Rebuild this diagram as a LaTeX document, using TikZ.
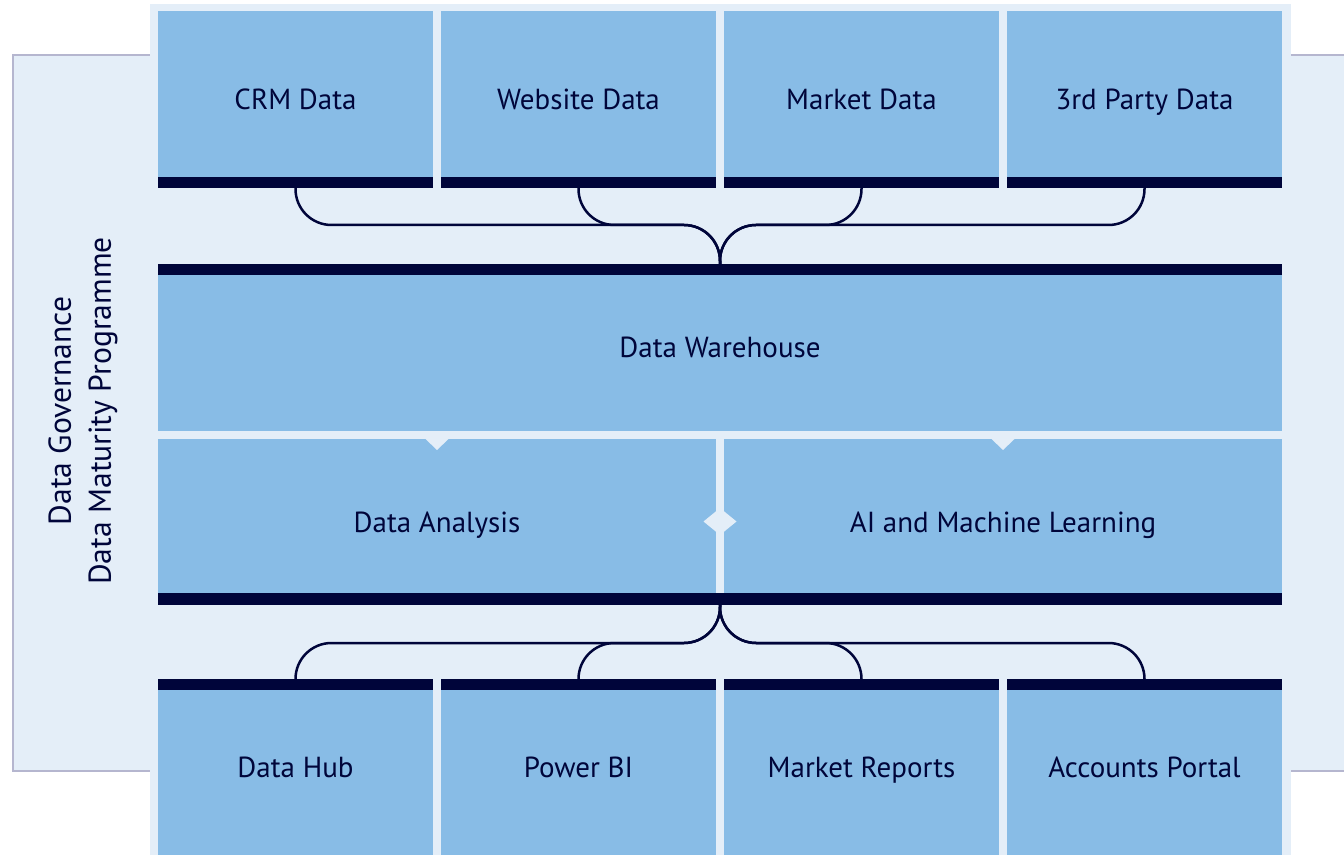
\documentclass[tikz,border=0pt]{standalone}
\usepackage{fontspec}
\setmainfont{PT Sans}

\definecolor{panel}{HTML}{E4EEF8}
\definecolor{boxblue}{HTML}{88BCE6}
\definecolor{navy}{HTML}{00053A}
\definecolor{framegray}{HTML}{B5B6CF}

\tikzset{
  box/.style={fill=boxblue, inner sep=0pt, outer sep=0pt, text=navy,
    text height=10pt, text depth=0pt, font=\fontsize{14.5}{17}\selectfont},
  % boxes with their dark bar underneath / on top
  srcbox/.style={box, minimum width=137.5pt, minimum height=88.5pt,
    path picture={\fill[navy] (path picture bounding box.south west)
      rectangle ([yshift=5.5pt]path picture bounding box.south east);}},
  sinkbox/.style={box, minimum width=137.5pt, minimum height=88pt,
    path picture={\fill[navy] (path picture bounding box.north west)
      rectangle ([yshift=-5.5pt]path picture bounding box.north east);}},
  widebox/.style={box, minimum width=562pt, minimum height=83.5pt,
    path picture={\fill[navy] (path picture bounding box.north west)
      rectangle ([yshift=-5.5pt]path picture bounding box.north east);}},
  halfbox/.style={box, minimum width=279pt, minimum height=83pt},
  bar/.style={fill=navy, inner sep=0pt, outer sep=0pt, minimum width=562pt, minimum height=6pt},
  link/.style={draw=navy, line width=1.25pt, rounded corners=18pt}
}

\begin{document}
\begin{tikzpicture}[x=0.5pt,y=-0.5pt]
  \useasboundingbox (0,0) rectangle (1344,855);
  \clip (0,0) rectangle (1344,855);
  % outer frame and centre panel
  \draw[fill=panel,draw=framegray,line width=1.25pt] (13,55) rectangle (1400,771);
  \fill[panel] (150,4) rectangle (1291,870);
  \node[text=navy,font=\fontsize{15.8}{20}\selectfont,align=center,rotate=90] (gov) at (83,411)
    {Data Governance\\Data Maturity Programme};

  % sources
  \node[srcbox] (crm) at (295.5,99.5) {CRM Data};
  \node[srcbox] (web) at (578.5,99.5) {Website Data};
  \node[srcbox] (mkt) at (861.5,99.5) {Market Data};
  \node[srcbox] (third) at (1144.5,99.5) {3rd Party Data};

  % warehouse and processing
  \node[widebox] (dw) at (720,347.5) {Data Warehouse};
  \node[halfbox] (da) at (437,522) {Data Analysis};
  \node[halfbox] (ai) at (1003,522) {AI and Machine Learning};
  \node[bar] (outbar) at (720,599) {};
  \fill[panel] ([xshift=-5.75pt]da.north) -- ([xshift=5.75pt]da.north) -- ([yshift=-5.5pt]da.north) -- cycle;
  \fill[panel] ([xshift=-5.75pt]ai.north) -- ([xshift=5.75pt]ai.north) -- ([yshift=-5.5pt]ai.north) -- cycle;
  \coordinate (split) at (720,521.5);
  \fill[panel] ([xshift=-8.25pt]split) -- ([yshift=6.75pt]split) -- ([xshift=8.25pt]split) -- ([yshift=-6.75pt]split) -- cycle;

  % outputs
  \node[sinkbox] (hub) at (295.5,767) {Data Hub};
  \node[sinkbox] (pbi) at (578.5,767) {Power BI};
  \node[sinkbox] (rep) at (861.5,767) {Market Reports};
  \node[sinkbox] (acc) at (1144.5,767) {Accounts Portal};

  % connectors
  \coordinate (inmid) at (720,225);
  \coordinate (outmid) at (720,643);
  \draw[link] (crm.south) |- (inmid) -- (dw.north);
  \draw[link] (web.south) |- (inmid) -- (dw.north);
  \draw[link] (mkt.south) |- (inmid) -- (dw.north);
  \draw[link] (third.south) |- (inmid) -- (dw.north);
  \draw[link] (outbar.south) -- (outmid) -| (hub.north);
  \draw[link] (outbar.south) -- (outmid) -| (pbi.north);
  \draw[link] (outbar.south) -- (outmid) -| (rep.north);
  \draw[link] (outbar.south) -- (outmid) -| (acc.north);
\end{tikzpicture}
\end{document}
